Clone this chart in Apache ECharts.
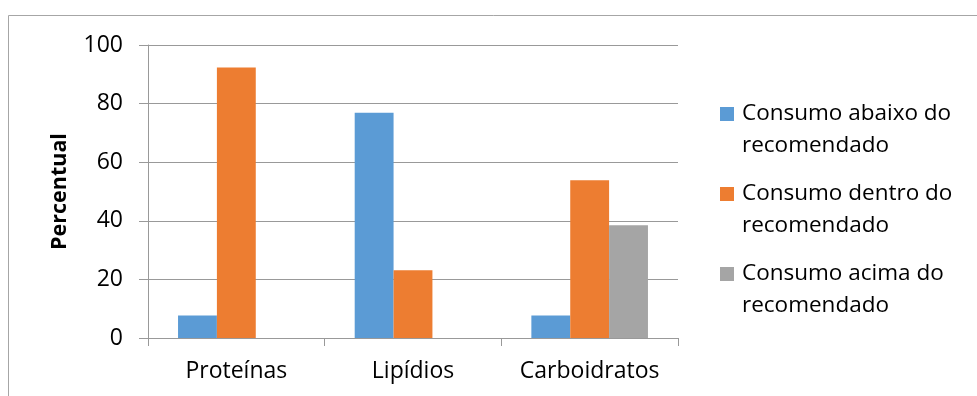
<!DOCTYPE html>
<html>
<head>
<meta charset="utf-8">
<script src="https://cdn.jsdelivr.net/npm/echarts@6/dist/echarts.min.js"></script>
<style>
  html, body { margin: 0; padding: 0; background: #fff; }
  #main { width: 977px; height: 396px; }
</style>
</head>
<body>
<div id="main"></div>
<script>
// categorias e valores (%)
const categorias = ['Proteínas', 'Lipídios', 'Carboidratos']
const abaixo = [7.7, 76.9, 7.7]
const dentro = [92.3, 23.1, 53.8]
const acima = [0, 0, 38.5]
const nomes = [
  'Consumo abaixo do recomendado',
  'Consumo dentro do recomendado',
  'Consumo acima do recomendado',
]
const cores = ['#5b9bd5', '#ed7d31', '#a5a5a5']

const fonte = 'Open Sans'
const linha = 32 // altura de linha da legenda

const chart = echarts.init(document.getElementById('main'), null, {renderer: 'canvas'})

const option = {
  animation: false,
  color: cores,
  textStyle: {fontFamily: fonte},
  graphic: [
    {
      // moldura externa
      type: 'rect',
      silent: true,
      shape: {x: 8.5, y: 15.5, width: 1000, height: 500},
      style: {fill: 'none', stroke: '#a6a6a6', lineWidth: 1},
    },
  ],
  grid: {left: 148, right: 299, top: 45, bottom: 58},
  legend: {
    orient: 'vertical',
    left: 720,
    top: 66,
    height: 320,
    padding: 0,
    itemWidth: 14,
    itemHeight: 14,
    itemGap: -16,
    icon: 'rect',
    data: nomes,
    // linha vazia no topo: o ícone fica alinhado com a 1ª linha do texto
    formatter: (name) => '\n' + name.replace(' recomendado', '\nrecomendado'),
    textStyle: {
      fontFamily: fonte,
      fontSize: 22.5,
      color: '#000',
      lineHeight: linha,
      padding: [0, 0, 0, 3],
    },
  },
  xAxis: {
    type: 'category',
    data: categorias,
    axisLine: {lineStyle: {color: '#999', width: 1}},
    axisTick: {show: true, length: 8, interval: 0, lineStyle: {color: '#999'}},
    axisLabel: {fontFamily: fonte, fontSize: 23, color: '#000', margin: 22, interval: 0},
  },
  yAxis: {
    type: 'value',
    min: 0,
    max: 100,
    interval: 20,
    name: 'Percentual',
    nameLocation: 'middle',
    nameRotate: 90,
    nameGap: 77,
    nameTextStyle: {fontFamily: fonte, fontSize: 21.5, fontWeight: 'bold', color: '#000'},
    axisLine: {show: true, lineStyle: {color: '#999', width: 1}},
    axisTick: {show: true, length: 9, lineStyle: {color: '#999'}},
    axisLabel: {fontFamily: fonte, fontSize: 23, color: '#000', margin: 25},
    splitLine: {show: true, lineStyle: {color: '#999', width: 1}},
  },
  series: [
    {name: nomes[0], type: 'bar', data: abaixo, barGap: '0%', barCategoryGap: '34%'},
    {name: nomes[1], type: 'bar', data: dentro, barGap: '0%', barCategoryGap: '34%'},
    {name: nomes[2], type: 'bar', data: acima, barGap: '0%', barCategoryGap: '34%'},
  ],
}

chart.setOption(option)
window.addEventListener('resize', function () {
  chart.resize()
})
</script>
</body>
</html>
